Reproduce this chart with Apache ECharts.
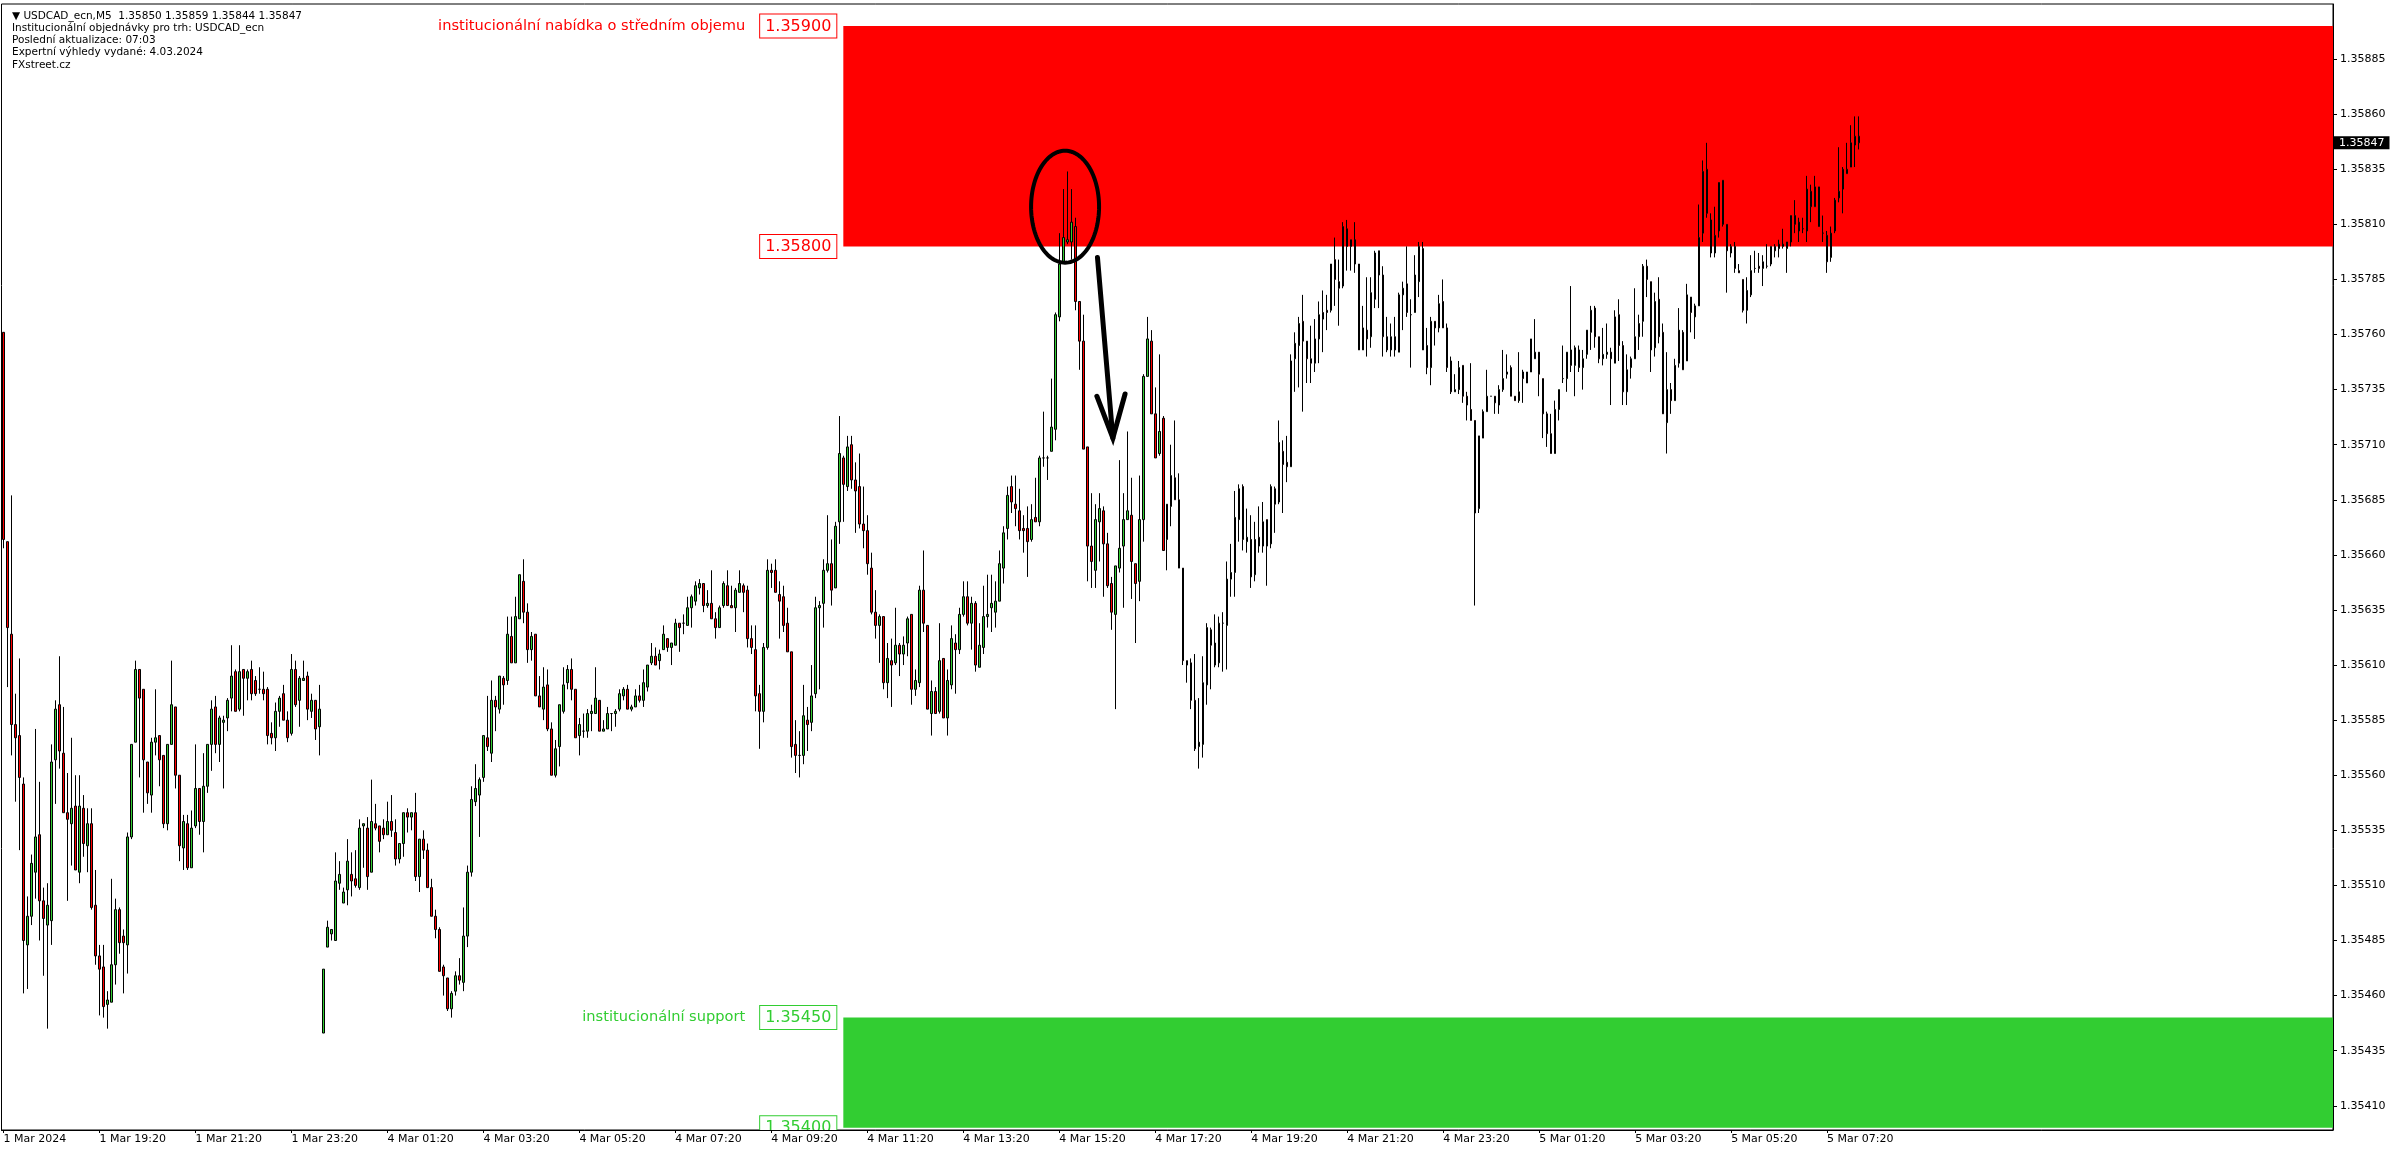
<!DOCTYPE html>
<html>
<head>
<meta charset="utf-8">
<script src="https://cdn.jsdelivr.net/npm/echarts@6/dist/echarts.min.js"></script>
<style>html,body{margin:0;padding:0;background:#fff;}#chart{width:2396px;height:1154px;}</style>
</head>
<body>
<div id="chart"></div>
<script>
// Prices are stored as points above 1.35000 (1 point = 0.00001)
const PRICE_BASE = 1.35;
const POINT = 0.00001;

const openPts = [
761,666,624,583,578,556,483,496,516,533, 503,492,494,567,592,570,543,538,546,516,
545,528,538,501,478,473,456,457,474,499, 487,483,532,575,608,599,566,551,575,578,
569,538,574,591,560,527,538,518,537,554, 539,555,574,591,574,584,586,595,607,590,
608,604,608,603,599,599,599,579,577,589, 597,585,579,608,594,603,605,589,594,582,
443,482,488,485,511,502,508,515,513,509, 537,536,516,538,537,536,533,539,534,522,
529,543,541,543,514,531,526,509,496,490, 473,468,454,462,469,466,487,516,548,551,
559,577,570,594,590,604,603,623,611,631, 648,634,617,624,596,590,601,581,560,573,
589,602,608,599,578,580,580,588,588,594, 580,581,588,588,590,596,599,590,591,596,
594,600,611,614,612,617,622,618,619,629, 629,628,636,639,645,647,637,638,631,627,
637,646,637,636,643,646,644,622,617,597, 589,618,653,653,642,641,629,616,574,569,
569,585,584,597,636,638,653,656,645,675, 704,691,710,694,691,674,671,654,634,628,
632,602,612,611,619,615,620,633,599,602, 644,628,588,598,589,613,586,601,620,617,
633,641,629,638,609,618,632,636,634,639, 654,672,691,683,680,672,672,667,677,675,
704,704,707,717,768,793,802,802,809,775, 757,709,664,653,675,680,665,647,633,654,
664,676,678,656,648,676,741,757,724,706, 722,667,682,695,685,654,612,611,594,573,
574,601,626,620,611,629,628,649,652,676, 691,666,667,651,668,664,676,665,690,684,
707,702,700,749,755,766,757,749,747,758, 770,771,771,794,784,782,808,800,803,792,
753,762,759,776,798,787,759,753,759,752, 778,783,769,770,784,799,755,745,766,763,
775,763,748,734,735,746,732,726,721,681, 713,725,732,732,728,735,742,745,732,730,
743,738,743,749,752,740,724,715,706,726, 740,740,753,746,753,745,751,761,772,759,
749,751,752,747,769,755,734,745,749,759, 766,791,784,754,776,761,720,735,730,747,
761,748,777,768,773,806,835,812,797,807, 830,810,797,800,789,785,771,778,790,791,
790,791,792,800,799,800,799,802,814,811, 808,807,825,818,827,806,805,795,807,822,
826,833,836,846,850
];
const highPts = [
761,666,687,597,613,559,505,524,581,557, 509,511,574,594,614,591,561,577,560,560,
551,545,545,517,483,483,462,513,504,500, 490,534,574,612,608,599,566,577,599,578,
569,574,612,591,560,542,542,544,574,554, 570,574,594,596,587,587,595,619,608,619,
608,608,612,605,609,607,600,584,593,596, 601,589,615,612,605,612,607,597,594,601,
472,494,490,525,521,509,531,525,526,540, 538,541,558,547,537,540,548,551,540,529,
543,545,543,552,531,535,529,513,499,491, 474,468,462,471,477,500,519,555,565,559,
578,596,603,596,605,605,632,632,641,651, 658,638,625,624,605,609,608,584,576,592,
609,610,613,599,586,588,590,592,609,594, 585,591,588,590,599,600,601,592,599,601,
608,610,620,618,617,628,622,620,631,629, 633,641,642,648,649,647,644,653,634,637,
648,653,646,645,653,647,646,628,628,601, 620,658,656,658,648,646,636,616,585,580,
601,591,610,641,639,658,678,667,675,723, 705,714,714,702,706,691,678,661,644,633,
632,620,622,636,620,623,632,633,608,646, 662,628,603,600,629,613,608,628,624,636,
648,648,641,639,629,646,651,651,648,662, 673,691,696,696,690,678,682,683,695,705,
725,705,740,770,806,826,834,826,813,775, 769,709,688,683,688,682,670,650,655,703,
688,716,695,656,696,742,768,762,736,751, 723,683,710,721,697,654,612,613,615,595,
614,629,627,633,632,634,657,665,689,692, 692,681,678,675,682,684,676,692,691,721,
712,714,751,761,768,778,757,764,767,775, 780,778,792,804,794,811,812,803,811,792,
773,786,786,798,798,791,768,765,768,779, 784,800,776,796,802,802,763,768,766,778,
785,765,750,742,748,746,734,747,721,714, 726,744,732,732,737,753,751,746,732,752,
744,743,758,767,752,740,725,724,730,735, 755,752,782,755,755,753,762,773,773,759,
763,765,754,771,776,757,751,750,781,769, 792,794,784,779,786,765,752,738,749,772,
762,783,777,774,819,839,847,815,818,829, 830,810,801,802,792,785,786,796,798,797,
796,801,800,801,803,808,802,814,821,813, 813,832,828,832,827,814,807,809,822,845,
836,847,855,859,859
];
const lowPts = [
663,600,569,548,526,461,463,492,504,485, 469,445,483,547,563,543,503,519,517,511,
523,516,499,474,451,450,445,457,465,479, 461,470,531,575,559,543,547,543,569,555,
536,535,574,554,521,517,517,518,536,533, 525,552,562,570,566,554,580,589,589,589,
587,594,594,596,597,594,574,574,571,582, 585,575,578,591,582,603,585,586,576,569,
443,482,485,485,508,502,501,505,509,508, 518,508,516,535,525,531,533,532,519,520,
523,534,535,512,507,522,509,496,486,471, 460,453,450,460,465,462,482,514,546,532,
557,571,566,580,588,592,601,611,611,631, 629,611,612,596,591,585,580,560,559,564,
588,599,594,577,569,577,577,580,588,580, 580,581,580,582,589,594,590,589,591,593,
591,598,610,610,608,617,616,610,619,616, 624,628,627,637,642,634,636,631,622,627,
636,637,636,625,643,634,618,615,589,572, 584,617,645,643,622,625,616,568,561,559,
565,571,580,595,599,627,652,637,645,665, 675,689,690,670,672,663,651,633,622,611,
599,595,591,610,605,610,614,592,596,600, 625,590,578,588,588,586,578,599,597,615,
632,628,617,607,609,615,627,625,627,639, 647,667,679,673,667,661,650,666,675,673,
700,694,707,712,766,792,801,794,771,744, 708,648,645,645,657,641,645,626,590,652,
636,676,640,620,639,666,741,724,704,705, 662,653,673,685,654,610,602,590,571,563,
568,592,599,609,609,607,608,641,641,666, 662,661,645,648,661,661,646,663,670,683,
679,693,700,734,736,725,738,738,743,747, 752,762,770,773,764,781,789,789,788,753,
753,750,754,772,772,750,752,750,750,752, 762,768,745,770,777,753,742,737,755,761,
763,743,733,734,733,729,721,721,637,679, 713,725,732,724,724,734,740,732,730,729,
729,738,743,749,732,713,709,706,706,721, 738,734,743,732,743,735,749,753,754,747,
746,749,728,747,748,728,728,740,749,753, 759,777,743,750,756,724,706,724,730,745,
744,748,761,758,773,802,813,795,795,804, 809,779,795,788,788,770,765,777,788,788,
782,790,791,795,795,799,788,800,806,802, 806,802,811,818,809,802,788,793,806,820,
815,833,836,836,844
];
const closePts = [
667,627,583,577,559,485,496,520,532,503, 495,501,566,590,571,543,540,545,517,546,
529,538,500,478,472,455,458,474,499,484, 484,532,574,608,595,567,552,575,577,567,
538,574,592,560,528,539,518,536,554,539, 555,574,590,574,586,585,594,605,589,607,
604,607,597,597,599,597,578,577,589,595, 585,577,608,592,604,604,590,594,581,590,
472,491,490,512,515,507,521,512,510,536, 538,514,539,536,530,533,539,535,522,529,
543,541,543,514,531,526,509,496,490,471, 469,454,461,469,467,487,516,549,554,558,
578,573,594,591,605,601,624,611,632,651, 634,617,623,596,591,600,581,560,572,592,
601,608,599,577,583,580,588,589,595,580, 581,588,588,589,597,599,590,591,596,594,
602,610,614,610,615,624,618,620,629,627, 629,636,641,646,647,637,638,631,627,636,
647,637,636,644,647,643,622,618,596,589, 618,653,652,643,639,628,616,573,569,569,
587,583,596,636,637,653,656,644,673,706, 692,709,694,689,674,671,656,634,628,632,
602,613,610,619,615,619,631,599,603,644, 629,590,598,588,612,586,603,622,617,633,
641,629,638,610,619,632,633,638,639,656, 670,687,684,681,671,671,666,676,675,704,
704,704,718,769,792,804,803,811,775,757, 708,664,657,676,681,665,646,634,655,663,
676,680,657,647,676,741,758,724,704,716, 662,683,696,685,654,612,610,594,572,575,
602,627,619,610,629,629,649,652,677,690, 667,668,650,667,664,675,664,691,683,711,
701,700,748,756,765,757,749,747,758,769, 767,770,792,785,781,809,800,803,792,753,
763,758,779,797,787,759,753,759,753,778, 781,770,769,787,800,753,745,766,763,774,
763,745,734,735,745,732,728,721,679,714, 725,732,732,729,735,740,743,732,730,734,
740,743,758,752,742,724,715,706,726,735, 740,752,746,754,745,749,762,771,759,749,
751,752,749,768,755,734,744,749,759,765, 791,785,753,775,759,724,735,730,746,762,
744,778,770,773,804,834,815,797,805,829, 810,798,800,790,788,771,780,789,790,790,
793,791,800,798,801,801,802,814,810,807, 808,826,818,827,809,806,793,806,821,825,
835,835,847,850,847
];

// axis tick labels
const xTickLabels = ['1 Mar 2024','1 Mar 19:20','1 Mar 21:20','1 Mar 23:20','4 Mar 01:20','4 Mar 03:20',
  '4 Mar 05:20','4 Mar 07:20','4 Mar 09:20','4 Mar 11:20','4 Mar 13:20','4 Mar 15:20','4 Mar 17:20',
  '4 Mar 19:20','4 Mar 21:20','4 Mar 23:20','5 Mar 01:20','5 Mar 03:20','5 Mar 05:20','5 Mar 07:20'];
const xTickStep = 24;
const yTickLabels = [1.35410,1.35435,1.35460,1.35485,1.35510,1.35535,1.35560,1.35585,1.35610,1.35635,
  1.35660,1.35685,1.35710,1.35735,1.35760,1.35785,1.35810,1.35835,1.35860,1.35885];

// zones
const zoneStartBar = 210;
const supplyZone = [1.35800, 1.35900];
const supportZone = [1.35400, 1.35450];
const zoneLevels = [1.35900, 1.35800, 1.35450, 1.35400];
const zoneLevelText = ['1.35900', '1.35800', '1.35450', '1.35400'];
const zoneDesc = ['institucionální nabídka o středním objemu', '', 'institucionální support', ''];

// drawn annotations (bar index, price)
const circleCenter = [265.45, 1.35818];
const circleRadius = [8.5, 0.000254];
const arrowShaft = [[273.55, 1.35795], [277.4, 1.35713]];
const arrowHead = [[273.4, 1.35732], [277.4, 1.35713], [280.45, 1.35733]];

const headerLines = ['Institucionální objednávky pro trh: USDCAD_ecn', 'Poslední aktualizace: 07:03',
  'Expertní výhledy vydané: 4.03.2024', 'FXstreet.cz'];

const TOTAL_SLOTS = 583;
const FONT = 'DejaVu Sans';

function px(v) { return +(PRICE_BASE + v * POINT).toFixed(5); }
function pad(n) { return (n < 10 ? '0' : '') + n; }
function buildCategories(total) {
  const cats = [];
  let day = 1, mins = 17 * 60 + 20;
  for (let i = 0; i < total; i++) {
    cats.push(day + ' Mar ' + pad(Math.floor(mins / 60)) + ':' + pad(mins % 60));
    mins += 5;
    if (mins >= 1440) { mins -= 1440; day = day === 1 ? 4 : day + 1; }
  }
  return cats;
}
const categories = buildCategories(TOTAL_SLOTS);
const candles = openPts.map((o, i) => [px(o), px(closePts[i]), px(lowPts[i]), px(highPts[i])]);
const last = candles.length - 1;
const lastBar = [px(openPts[last]), px(highPts[last]), px(lowPts[last]), px(closePts[last])];
const titleText = ['\u25BC USDCAD_ecn,M5  ' + lastBar.map(v => v.toFixed(5)).join(' ')].concat(headerLines).join('\n');

function toPx(api, pt) {
  const band = api.size([1, 0])[0];
  const i = Math.floor(pt[0]);
  const c = api.coord([i, pt[1]]);
  return [c[0] + (pt[0] - i) * band, c[1]];
}

const chart = echarts.init(document.getElementById('chart'), null, {renderer: 'canvas'});
const tickShown = (idx) => idx % xTickStep === 0 && idx / xTickStep < xTickLabels.length;

chart.setOption({
  animation: false,
  backgroundColor: '#ffffff',
  title: {
    text: titleText, left: 7, top: 5,
    textStyle: {fontFamily: FONT, fontSize: 10.5, fontWeight: 'normal', color: '#000', lineHeight: 12.2}
  },
  grid: {left: 1.5, right: 63, top: 4, bottom: 24, show: true, borderColor: '#000', borderWidth: 1, backgroundColor: 'transparent'},
  xAxis: {
    type: 'category', data: categories, boundaryGap: true,
    axisLine: {show: true, lineStyle: {color: '#000', width: 1}},
    axisTick: {show: true, alignWithLabel: true, interval: tickShown, length: 3, lineStyle: {color: '#000'}},
    axisLabel: {
      interval: tickShown, align: 'left', margin: 4, color: '#000', fontFamily: FONT, fontSize: 11,
      formatter: (v, idx) => xTickLabels[Math.round(idx / xTickStep)]
    },
    splitLine: {show: false}
  },
  yAxis: {
    type: 'value', position: 'right', scale: true, min: 1.35399, max: 1.35910,
    axisLine: {show: true, lineStyle: {color: '#000', width: 1}},
    axisTick: {show: true, length: 4, customValues: yTickLabels, lineStyle: {color: '#000'}},
    axisLabel: {customValues: yTickLabels, margin: 7, color: '#000', fontFamily: FONT, fontSize: 11,
      formatter: v => (+v).toFixed(5)},
    splitLine: {show: false}
  },
  series: [
    {
      type: 'candlestick', name: 'USDCAD_ecn,M5', data: candles, barWidth: 2, z: 3,
      itemStyle: {color: '#32cd32', color0: '#ff0000', borderColor: '#000', borderColor0: '#000', borderColorDoji: '#000', borderWidth: 1},
      markArea: {
        silent: true, label: {show: false},
        data: [
          [{xAxis: zoneStartBar, yAxis: supplyZone[1], itemStyle: {color: '#ff0000', opacity: 1}}, {yAxis: supplyZone[0]}],
          [{xAxis: zoneStartBar, yAxis: supportZone[1], itemStyle: {color: '#32cd32', opacity: 1}}, {yAxis: supportZone[0]}]
        ]
      }
    },
    {
      type: 'custom', name: 'zoneLabels', coordinateSystem: 'cartesian2d', clip: true, z: 4, silent: true,
      data: zoneLevels.map((p, i) => [zoneStartBar, p, i]),
      encode: {x: 0, y: 1},
      renderItem: function (params, api) {
        const i = api.value(2);
        const pt = api.coord([api.value(0), api.value(1)]);
        const col = i < 2 ? '#ff0000' : '#32cd32';
        const txt = (zoneDesc[i] ? '{d|' + zoneDesc[i] + '}' : '') + '{b|' + zoneLevelText[i] + '}';
        return {
          type: 'text', x: pt[0] - 7, y: pt[1],
          style: {
            text: txt, align: 'right', verticalAlign: 'middle',
            rich: {
              d: {fill: col, fontFamily: FONT, fontSize: 14.6, padding: [0, 15, 0, 0]},
              b: {fill: col, fontFamily: FONT, fontSize: 16, backgroundColor: '#fff', borderColor: col, borderWidth: 1, padding: [4, 5, 3, 5]}
            }
          }
        };
      }
    },
    {
      type: 'custom', name: 'drawing', coordinateSystem: 'cartesian2d', z: 5, silent: true,
      data: [[Math.round(circleCenter[0]), circleCenter[1]]],
      encode: {x: 0, y: 1},
      renderItem: function (params, api) {
        const c = toPx(api, circleCenter);
        const band = api.size([1, 0])[0];
        const rx = circleRadius[0] * band;
        const ry = Math.abs(api.coord([0, circleCenter[1] + circleRadius[1]])[1] - api.coord([0, circleCenter[1]])[1]);
        const pts = [];
        for (let k = 0; k < 120; k++) {
          const a = k / 120 * Math.PI * 2;
          pts.push([c[0] + rx * Math.cos(a), c[1] + ry * Math.sin(a)]);
        }
        return {
          type: 'group',
          children: [
            {type: 'polygon', shape: {points: pts}, style: {fill: 'none', stroke: '#000', lineWidth: 4}},
            {type: 'polyline', shape: {points: arrowShaft.map(p => toPx(api, p))}, style: {fill: 'none', stroke: '#000', lineWidth: 5, lineCap: 'round'}},
            {type: 'polyline', shape: {points: arrowHead.map(p => toPx(api, p))}, style: {fill: 'none', stroke: '#000', lineWidth: 5, lineCap: 'round', lineJoin: 'miter'}}
          ]
        };
      }
    }
  ]
});

// current bid label on the price scale, placed through the y axis scale
const bidY = chart.convertToPixel({yAxisIndex: 0}, lastBar[3]);
const gridRight = chart.convertToPixel({xAxisIndex: 0}, TOTAL_SLOTS - 1) + 2;
chart.setOption({
  graphic: [{
    type: 'text', x: Math.round(gridRight) + 1, y: bidY, z: 100, silent: true,
    style: {text: lastBar[3].toFixed(5), fill: '#fff', backgroundColor: '#000', padding: [1, 5, 0, 5],
      fontFamily: FONT, fontSize: 11, lineHeight: 12, align: 'left', verticalAlign: 'middle'}
  }]
});
</script>
</body>
</html>
